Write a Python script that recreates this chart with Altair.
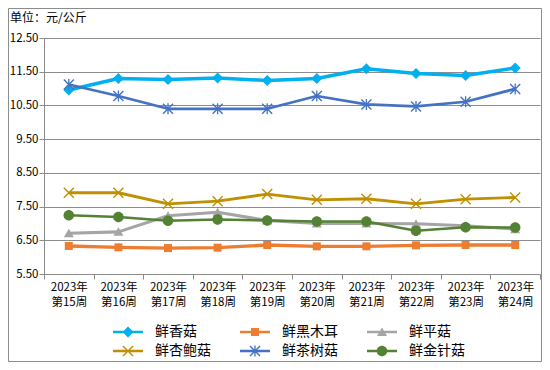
import altair as alt
import pandas as pd

FONT = "Noto Sans CJK SC"
GRID = "#8c8c8c"

weeks = ["2023年第15周", "2023年第16周", "2023年第17周", "2023年第18周", "2023年第19周",
         "2023年第20周", "2023年第21周", "2023年第22周", "2023年第23周", "2023年第24周"]
series = ["鲜香菇", "鲜黑木耳", "鲜平菇", "鲜杏鲍菇", "鲜茶树菇", "鲜金针菇"]

xianggu = [10.96, 11.30, 11.27, 11.31, 11.24, 11.30, 11.59, 11.45, 11.39, 11.61]
heimuer = [6.33, 6.29, 6.27, 6.28, 6.36, 6.32, 6.32, 6.35, 6.36, 6.36]
pinggu = [6.71, 6.75, 7.23, 7.33, 7.09, 7.00, 7.00, 6.99, 6.93, 6.83]
xingbaogu = [7.91, 7.91, 7.58, 7.66, 7.87, 7.70, 7.73, 7.58, 7.72, 7.77]
chashugu = [11.12, 10.78, 10.40, 10.40, 10.40, 10.78, 10.53, 10.47, 10.61, 10.99]
jinzhengu = [7.24, 7.19, 7.08, 7.12, 7.09, 7.06, 7.06, 6.78, 6.89, 6.88]

y_ticks = [5.5, 6.5, 7.5, 8.5, 9.5, 10.5, 11.5, 12.5]

colors = ["#00B0F0", "#ED7D31", "#A5A5A5", "#BF9000", "#4472C4", "#548235"]
widths = [3.5, 2.5, 2.5, 2.75, 3.0, 2.75]

# marker shapes (unit coordinates, scaled by sqrt(size)/2)
diamond = "M0,-1.1L1.1,0L0,1.1L-1.1,0Z"
square = "M-0.8,-0.8L0.8,-0.8L0.8,0.8L-0.8,0.8Z"
triangle = "M0,-0.9L1,0.8L-1,0.8Z"
xbars = ("M-0.9,-1.1L1.1,0.9L0.9,1.1L-1.1,-0.9Z"
         "M-1.1,0.9L0.9,-1.1L1.1,-0.9L-0.9,1.1Z")
asterisk = xbars + "M0.13,-1.1L0.13,1.1L-0.13,1.1L-0.13,-1.1Z"
circle = "M-1.05,0A1.05,1.05 0 1,1 1.05,0A1.05,1.05 0 1,1 -1.05,0Z"
marker_paths = [diamond, square, triangle, xbars, asterisk, circle]
legend_line = "M-3,-0.27L3,-0.27L3,0.27L-3,0.27Z"
legend_paths = [legend_line + m for m in marker_paths]

rows = []
for s, vals in zip(series, [xianggu, heimuer, pinggu, xingbaogu, chashugu, jinzhengu]):
    for w, v in zip(weeks, vals):
        rows.append({"week": w, "series": s, "price": v})
df = pd.DataFrame(rows)

x = alt.X(
    "week:N", sort=weeks,
    scale=alt.Scale(type="band", paddingInner=0, paddingOuter=0),
    axis=alt.Axis(
        title=None, tickBand="extent", labelAngle=0,
        labelExpr="[substring(datum.label, 0, 5), substring(datum.label, 5)]",
        labelFont=FONT, labelFontSize=11.5, labelColor="#000000", labelLineHeight=15,
        labelPadding=2, tickSize=5, tickColor=GRID, domainColor=GRID, grid=False,
    ),
)
y = alt.Y(
    "price:Q",
    scale=alt.Scale(domain=[5.5, 12.5], nice=False, zero=False),
    axis=alt.Axis(
        title=None, values=y_ticks, format=".2f", grid=True, gridColor=GRID,
        tickSize=5, tickColor=GRID, domainColor=GRID, labelFont=FONT,
        labelFontSize=11.5, labelColor="#000000", labelPadding=1,
    ),
)

color_scale = alt.Scale(domain=series, range=colors)

leg = alt.Legend(
    title=None, orient="none", legendX=69, legendY=287, columns=3,
    direction="horizontal",
    columnPadding=29, rowPadding=5, symbolSize=100, symbolOffset=8,
    labelOffset=20, labelFont=FONT, labelFontSize=14, labelColor="#000000",
    symbolStrokeWidth=0, padding=0,
)

base = alt.Chart(df)

lines = base.mark_line(strokeJoin="round").encode(
    x=x, y=y,
    color=alt.Color("series:N", scale=color_scale, legend=None),
    strokeWidth=alt.StrokeWidth("series:N", scale=alt.Scale(domain=series, range=widths), legend=None),
)

points = base.mark_point(filled=True, size=100, opacity=1).encode(
    x=x, y=y,
    color=alt.Color("series:N", scale=color_scale, legend=None),
    shape=alt.Shape("series:N", scale=alt.Scale(domain=series, range=marker_paths), legend=None),
)

legend_layer = base.mark_point(filled=True, size=100, opacity=1).encode(
    x=x, y=y,
    color=alt.Color("series:N", scale=color_scale, legend=leg),
    shape=alt.Shape("series:N", scale=alt.Scale(domain=series, range=legend_paths), legend=leg),
).transform_filter("false")

border = alt.Chart(alt.Data(values=[{"k": 1}])).mark_rect(
    filled=False, stroke="#8c8c8c", strokeWidth=1
).encode(
    x=alt.value(-35.5), x2=alt.value(497.5), y=alt.value(-29.5), y2=alt.value(323.5)
)

chart = alt.layer(border, lines, points, legend_layer).resolve_scale(
    color="independent", shape="independent"
).properties(
    width=496, height=236,
    autosize=alt.AutoSizeParams(type="none"),
    padding={"left": 36, "top": 30, "right": 2, "bottom": 88},
    background="white",
    title=alt.Title(
        "单位：元/公斤", anchor="start", frame="bounds", fontSize=12,
        fontWeight="normal", font=FONT, color="#000000", offset=8, dx=2, dy=25,
    ),
).configure_view(stroke=None)

chart.save("out.html", embed_options={"renderer": "svg", "actions": False})
